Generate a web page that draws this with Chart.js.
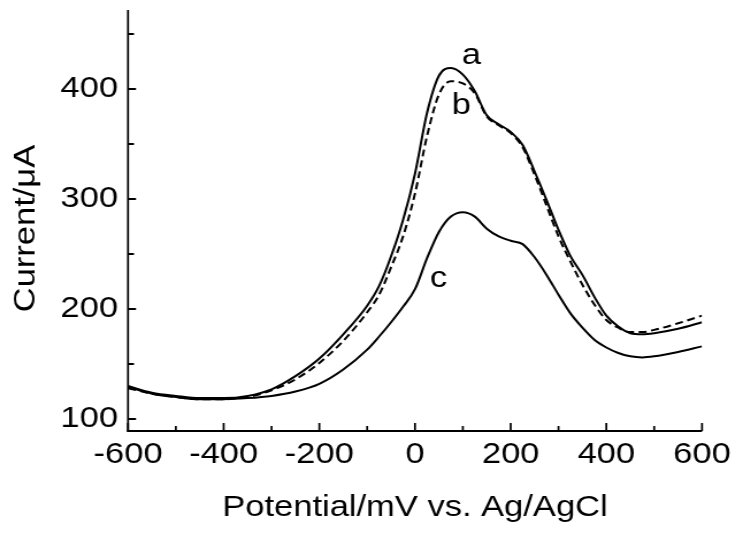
<!DOCTYPE html>
<html>
<head>
<meta charset="utf-8">
<script src="https://cdn.jsdelivr.net/npm/chart.js@4/dist/chart.umd.min.js"></script>
<style>
html,body{margin:0;padding:0;background:#fff;overflow:hidden;}
#wrap{width:743px;height:536px;position:relative;overflow:hidden;}
#c{position:absolute;left:0;top:0;transform-origin:0 0;}
</style>
</head>
<body>
<div id="wrap"><canvas id="c" width="646" height="536"></canvas></div>
<script>
// ---- data ----
const potentials = [-600,-550,-500,-450,-400,-350,-300,-250,-200,-150,-100,-75,-50,-25,0,25,50,75,100,125,150,175,200,225,250,275,300,325,350,375,400,425,450,475,500,550,600];
const curveA = [130,124,121,119,119,121,127,139,155,177,203,221,248,281,323,378,412,419,413,398,376,368,361,349,325,299,272,248,231,211,194,184,178,177,178,182,188];
const curveB = [128,123,120,118,118,120,126,136,151,171,197,213,238,266,305,357,395,407,405,396,375,367,360,347,322,294,266,243,222,204,190,183,179,179,181,187,194];
const curveC = [129,123,120,118,118,119,121,125,132,145,163,175,188,202,218,246,270,284,288,284,273,266,262,259,247,231,213,196,183,172,165,160,157,156,157,161,166];
const xMajorTicks = [-600,-400,-200,0,200,400,600];
const xMinorTicks = [-500,-300,-100,100,300,500];
const yMajorTicks = [100,200,300,400];
const yMinorTicks = [150,250,350,450];
const curveLabels = ['a','b','c'];
const labelAnchors = [[118,422.7],[97,377.3],[49,220]]; // data coords (mV, µA) of label baselines
const xTitle = 'Potential/mV vs. Ag/AgCl';
const yTitle = 'Current/\u03BCA';

// ---- layout ----
const REAL_W = 743, CANVAS_W = 646;
const S = REAL_W / CANVAS_W;
const canvas = document.getElementById('c');
canvas.style.transform = 'scaleX(' + S + ')';
const FONT = "'Liberation Sans', Arial, Helvetica, sans-serif";

function pts(ys){ return potentials.map((x,i)=>({x:x,y:ys[i]})); }

const decor = {
  id:'decor',
  afterDraw(chart){
    const ctx = chart.ctx, ca = chart.chartArea;
    const xs = chart.scales.x, ys = chart.scales.y;
    ctx.save();
    ctx.strokeStyle = '#000';
    ctx.lineCap = 'butt';
    ctx.lineWidth = 2 / S;
    ctx.beginPath(); ctx.moveTo(ca.left, ca.top); ctx.lineTo(ca.left, ca.bottom + 1); ctx.stroke();
    ctx.lineWidth = 2;
    ctx.beginPath(); ctx.moveTo(ca.left - 1/S, ca.bottom); ctx.lineTo(ca.right, ca.bottom); ctx.stroke();
    ctx.lineWidth = 2 / S;
    xMajorTicks.forEach(v=>{ const p = xs.getPixelForValue(v); ctx.beginPath(); ctx.moveTo(p, ca.bottom); ctx.lineTo(p, ca.bottom - 8); ctx.stroke(); });
    xMinorTicks.forEach(v=>{ const p = xs.getPixelForValue(v); ctx.beginPath(); ctx.moveTo(p, ca.bottom); ctx.lineTo(p, ca.bottom - 5); ctx.stroke(); });
    ctx.lineWidth = 2;
    yMajorTicks.forEach(v=>{ const p = ys.getPixelForValue(v); ctx.beginPath(); ctx.moveTo(ca.left, p); ctx.lineTo(ca.left + 8/S, p); ctx.stroke(); });
    yMinorTicks.forEach(v=>{ const p = ys.getPixelForValue(v); ctx.beginPath(); ctx.moveTo(ca.left, p); ctx.lineTo(ca.left + 6/S, p); ctx.stroke(); });
    ctx.fillStyle = '#000';
    ctx.font = '30px ' + FONT;
    ctx.textAlign = 'center';
    ctx.textBaseline = 'alphabetic';
    curveLabels.forEach((t,i)=>{
      ctx.fillText(t, xs.getPixelForValue(labelAnchors[i][0]), ys.getPixelForValue(labelAnchors[i][1]));
    });
    // y-axis title (rotated, same glyph aspect as the horizontal text)
    ctx.save();
    ctx.translate(35 / S, (ca.top + ca.bottom) / 2 + 8);
    ctx.rotate(-Math.PI / 2);
    ctx.scale(S, 1 / S);
    ctx.fillText(yTitle, 0, 0);
    ctx.restore();
    ctx.restore();
  }
};

const lineStyle = {fill:false, pointRadius:0, cubicInterpolationMode:'monotone', borderColor:'#000', borderWidth:2};

function noPad(s){ s.paddingTop = 0; s.paddingBottom = 0; s.paddingLeft = 0; s.paddingRight = 0; }

new Chart(canvas, {
  type:'line',
  data:{
    datasets:[
      Object.assign({label:'a', data:pts(curveA)}, lineStyle),
      Object.assign({label:'b', data:pts(curveB), borderDash:[7,4]}, lineStyle),
      Object.assign({label:'c', data:pts(curveC)}, lineStyle)
    ]
  },
  options:{
    responsive:false,
    animation:false,
    devicePixelRatio:1,
    layout:{padding:{top:10, right: CANVAS_W - 702/S, left:0, bottom:0}},
    plugins:{legend:{display:false}, tooltip:{enabled:false}},
    scales:{
      x:{
        type:'linear', min:-600, max:600,
        grid:{display:false, drawTicks:false},
        border:{display:false},
        afterBuildTicks(s){ s.ticks = xMajorTicks.map(v=>({value:v})); },
        afterFit(s){ s.height = 105; noPad(s); },
        ticks:{color:'#000', font:{family:FONT, size:30}, padding:6, maxRotation:0, autoSkip:false, callback:v=>String(v)},
        title:{display:true, text:xTitle, color:'#000', font:{family:FONT, size:30}, padding:{top:0,bottom:10}}
      },
      y:{
        type:'linear', min:89.1, max:471.8,
        grid:{display:false, drawTicks:false},
        border:{display:false},
        afterBuildTicks(s){ s.ticks = yMajorTicks.map(v=>({value:v})); },
        afterFit(s){ s.width = 128 / S; noPad(s); },
        ticks:{color:'#000', font:{family:FONT, size:30}, padding:10/S, autoSkip:false, callback:v=>String(v)},
        title:{display:false, text:yTitle}
      }
    }
  },
  plugins:[decor]
});
</script>
</body>
</html>
